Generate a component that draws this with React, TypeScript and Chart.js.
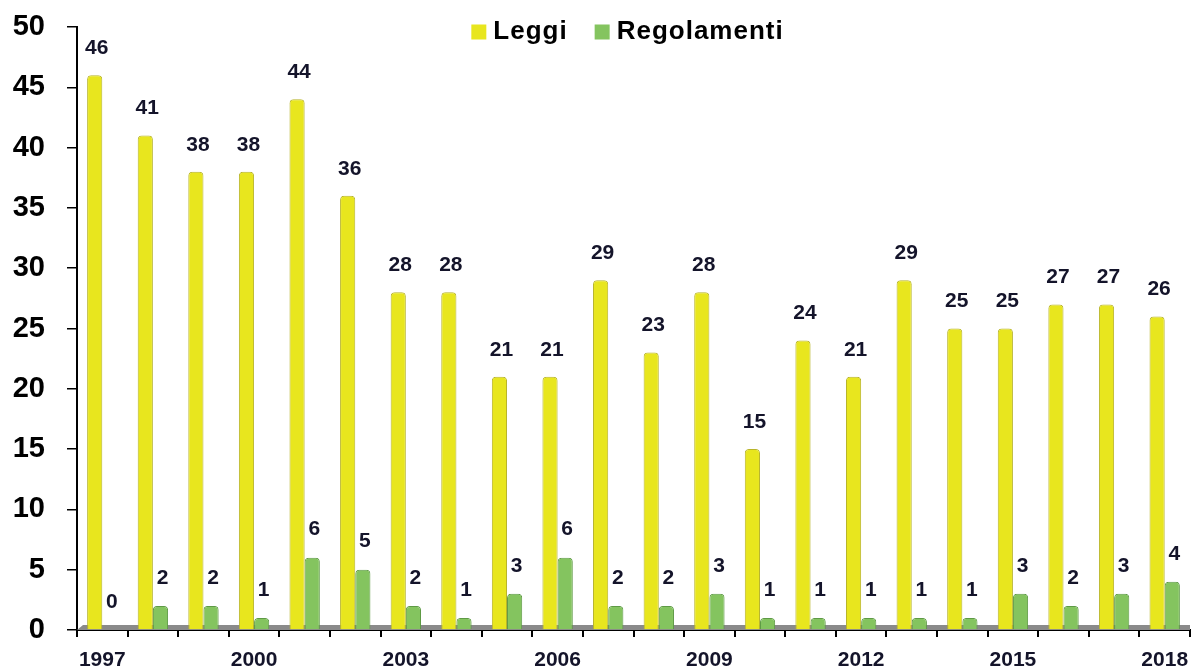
import React, { useEffect, useRef } from "react";
import { Chart, registerables } from "chart.js";

Chart.register(...registerables);

const years = ["1997","1998","1999","2000","2001","2002","2003","2004","2005","2006","2007","2008","2009","2010","2011","2012","2013","2014","2015","2016","2017","2018"];
const leggi = [46, 41, 38, 38, 44, 36, 28, 28, 21, 21, 29, 23, 28, 15, 24, 21, 29, 25, 25, 27, 27, 26];
const regolamenti = [0, 2, 2, 1, 6, 5, 2, 1, 3, 6, 2, 2, 3, 1, 1, 1, 1, 1, 3, 2, 3, 4];
const seriesNames = ["Leggi", "Regolamenti"];
const yellow = "#E8E61E";
const green = "#84C45F";
const FONT = "'Liberation Sans', Arial, sans-serif";

const floorPlugin = {
  id: "floor",
  beforeDatasetsDraw(chart: any) {
    const { ctx, chartArea } = chart;
    ctx.save();
    ctx.fillStyle = "#8a8a8a";
    ctx.beginPath();
    ctx.moveTo(chartArea.left, chartArea.bottom);
    ctx.lineTo(chartArea.left + 6, chartArea.bottom - 5);
    ctx.lineTo(chartArea.right, chartArea.bottom - 5);
    ctx.lineTo(chartArea.right, chartArea.bottom);
    ctx.closePath();
    ctx.fill();
    ctx.restore();
  },
};

const labelPlugin = {
  id: "valueLabels",
  afterDatasetsDraw(chart: any) {
    const { ctx } = chart;
    ctx.save();
    ctx.font = `bold 21px ${FONT}`;
    ctx.fillStyle = "#14142a";
    ctx.textAlign = "center";
    ctx.textBaseline = "middle";
    chart.data.datasets.forEach((ds: any, di: number) => {
      const meta = chart.getDatasetMeta(di);
      const gap = di === 0 ? 27 : 28;
      meta.data.forEach((el: any, i: number) => {
        ctx.fillText(String(ds.data[i]), el.x + 2, el.y - gap);
      });
    });
    ctx.restore();
  },
};

const legendPlugin = {
  id: "customLegend",
  afterDraw(chart: any) {
    const { ctx, chartArea } = chart;
    ctx.save();
    ctx.font = `bold 26px ${FONT}`;
    try { (ctx as any).letterSpacing = "1px"; } catch (e) {}
    ctx.textBaseline = "middle";
    ctx.textAlign = "left";
    const colors = [yellow, green];
    const box = 15;
    const gapBoxText = 7;
    const gapItems = 27;
    const widths = seriesNames.map((n) => ctx.measureText(n).width);
    const total = widths.reduce((a, w) => a + box + gapBoxText + w, 0) + gapItems;
    let x = (chartArea.left + chartArea.right) / 2 - total / 2 - 6;
    const y = 32;
    seriesNames.forEach((n, i) => {
      ctx.fillStyle = colors[i];
      ctx.fillRect(x, y - box / 2, box, box);
      x += box + gapBoxText;
      ctx.fillStyle = "#000";
      ctx.fillText(n, x, y);
      x += widths[i] + gapItems;
    });
    ctx.restore();
  },
};

export default function App() {
  const ref = useRef<HTMLCanvasElement>(null);
  useEffect(() => {
    document.body.style.margin = "0";
    const chart = new Chart(ref.current!, {
      type: "bar",
      data: {
        labels: years,
        datasets: [
          {
            label: seriesNames[0],
            data: leggi,
            backgroundColor: yellow,
            borderColor: "#B8B42A",
            borderWidth: 1,
            borderRadius: { topLeft: 4, topRight: 4, bottomLeft: 0, bottomRight: 0 },
            borderSkipped: "bottom",
          },
          {
            label: seriesNames[1],
            data: regolamenti,
            backgroundColor: green,
            borderColor: "#5E9A45",
            borderWidth: 1,
            borderRadius: { topLeft: 4, topRight: 4, bottomLeft: 0, bottomRight: 0 },
            borderSkipped: "bottom",
          },
        ],
      },
      options: {
        animation: false,
        responsive: true,
        maintainAspectRatio: false,
        layout: { padding: { top: 27, right: 7, left: 0, bottom: 0 } },
        plugins: { legend: { display: false }, tooltip: { enabled: false } },
        datasets: { bar: { categoryPercentage: 0.6, barPercentage: 1 } },
        scales: {
          x: {
            afterFit: (s: any) => { s.height = 40; s.paddingLeft = 0; s.paddingRight = 0; },
            grid: { display: true, drawOnChartArea: false, color: "#000", lineWidth: 2, tickLength: 7, offset: true },
            border: { color: "#000", width: 2 },
            ticks: {
              autoSkip: false,
              maxRotation: 0,
              padding: 11,
              color: "#14142a",
              font: { family: FONT, size: 21, weight: "bold" },
              callback: (_v: any, i: number) => (i % 3 === 0 ? years[i] : ""),
            },
          },
          y: {
            min: 0,
            max: 50,
            afterFit: (s: any) => { s.width = 77; s.paddingTop = 0; s.paddingBottom = 0; },
            grid: { display: true, drawOnChartArea: false, color: "#000", lineWidth: 1.5, tickLength: 10 },
            border: { color: "#000", width: 2 },
            ticks: {
              stepSize: 5,
              padding: 22,
              color: "#000",
              font: { family: FONT, size: 29, weight: "bold" },
            },
          },
        },
      },
      plugins: [floorPlugin, labelPlugin, legendPlugin],
    });
    return () => chart.destroy();
  }, []);
  return (
    <div style={{ width: 1197, height: 670, position: "relative", overflow: "hidden" }}>
      <canvas ref={ref} />
    </div>
  );
}
